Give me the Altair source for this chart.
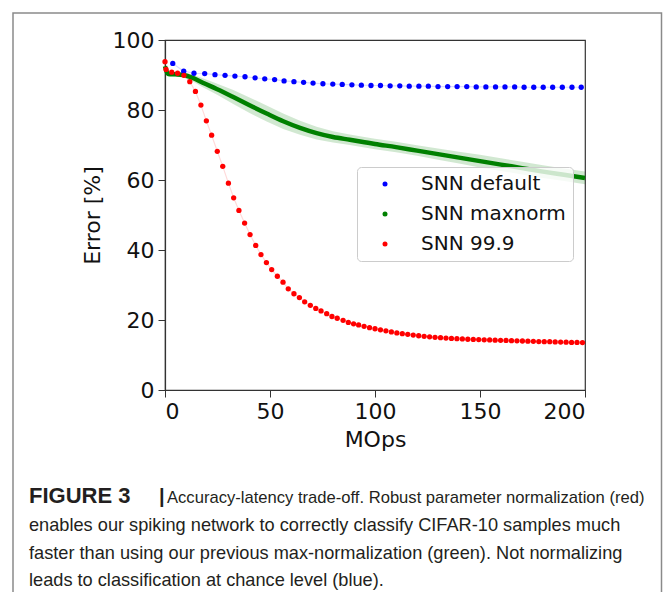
import altair as alt
import pandas as pd

# ---- data ----
series_names = ["SNN default", "SNN maxnorm", "SNN 99.9"]
series_colors = ["#0000ff", "#008000", "#ff0000"]

blue_x = [3.7, 8.9, 13.8, 18.9, 23.8, 28.6, 33.3, 38.1, 42.9, 47.5, 52.2, 56.7, 61.4, 66.0,
          70.5, 75.2, 79.9, 84.4, 89.0, 93.5, 98.1, 102.6, 107.2, 111.8, 116.3, 120.9, 125.4,
          130.0, 134.6, 139.1, 143.7, 148.2, 152.8, 157.4, 161.9, 166.5, 171.0, 175.6, 180.1,
          184.6, 189.2, 193.8, 198.2]
blue_y = [93.3, 91.1, 90.5, 90.4, 90.1, 89.9, 89.7, 89.5, 89.2, 88.9, 88.7, 88.3, 88.1, 87.9,
          87.7, 87.5, 87.4, 87.3, 87.2, 87.1, 87.0, 87.0, 86.9, 86.9, 86.8, 86.8, 86.8,
          86.7, 86.7, 86.7, 86.7, 86.6, 86.6, 86.6, 86.6, 86.6, 86.5, 86.5, 86.5,
          86.5, 86.5, 86.5, 86.5]

green_x = [0.0, 1.5, 5.0, 9.0, 13.5, 18.0, 24.6, 32.5, 40.5, 48.4, 56.3, 64.3, 72.2, 80.0,
           88.0, 95.0, 100.0, 110.0, 120.0, 130.0, 140.0, 150.0, 160.0, 170.0, 180.0, 190.0, 200.0]
green_y = [92.5, 90.3, 90.2, 90.0, 89.1, 87.8, 86.0, 83.7, 81.3, 79.0, 76.8, 74.9, 73.4, 72.3,
           71.5, 70.8, 70.3, 69.4, 68.4, 67.4, 66.4, 65.4, 64.4, 63.4, 62.4, 61.5, 60.6]
green_err = [0.5, 0.6, 0.6, 0.8, 1.0, 1.3, 1.6, 2.0, 2.2, 2.3, 2.2, 2.0, 1.8, 1.6,
             1.5, 1.5, 1.5, 1.5, 1.5, 1.6, 1.7, 1.8, 1.8, 1.8, 1.8, 1.8, 1.8]

red_x = [0.0, 0.5, 3.2, 6.0, 9.0, 11.8, 14.5, 17.1, 19.7, 22.2, 24.9, 27.5, 30.2, 32.7, 35.2,
         37.9, 40.5, 43.2, 45.7, 48.3, 50.8, 53.5, 56.2, 58.7, 61.4, 64.0, 66.5, 69.2, 71.8,
         74.3, 77.0, 79.5, 82.0, 84.8, 87.3, 89.8, 92.2,
         94.8, 97.4, 100.0, 102.6, 105.2, 107.8, 110.4, 113.0, 115.6, 118.2,
         120.8, 123.4, 126.0, 128.6, 131.2, 133.8, 136.4, 139.0, 141.6, 144.2,
         146.8, 149.4, 152.0, 154.6, 157.2, 159.8, 162.4, 165.0, 167.6, 170.2,
         172.8, 175.4, 178.0, 180.6, 183.2, 185.8, 188.4, 191.0, 193.6, 196.2, 198.8]
red_y = [93.8, 91.6, 90.8, 90.5, 89.9, 88.1, 85.3, 81.4, 76.9, 72.8, 68.2, 63.9, 59.1, 54.9, 51.3,
         47.7, 44.4, 41.3, 38.7, 36.4, 34.4, 32.5, 30.8, 28.9, 27.5, 26.4, 25.2, 24.2, 23.3,
         22.6, 21.8, 21.0, 20.5, 19.9, 19.3, 18.9, 18.6,
         18.2, 17.8, 17.5, 17.2, 16.9, 16.6, 16.3, 16.1, 15.9, 15.7,
         15.5, 15.35, 15.2, 15.05, 14.95, 14.85, 14.75, 14.65, 14.6, 14.5,
         14.45, 14.4, 14.35, 14.3, 14.25, 14.2, 14.15, 14.1, 14.05, 14.0,
         13.95, 13.9, 13.85, 13.8, 13.8, 13.75, 13.7, 13.65, 13.6, 13.6, 13.55]

x_ticks = [0, 50, 100, 150, 200]
y_ticks = [0, 20, 40, 60, 80, 100]

caption_bold = "FIGURE 3"
caption_bar = "|"
caption_lines = [
    "Accuracy-latency trade-off. Robust parameter normalization (red)",
    "enables our spiking network to correctly classify CIFAR-10 samples much",
    "faster than using our previous max-normalization (green). Not normalizing",
    "leads to classification at chance level (blue).",
]

# ---- tables ----
dots = pd.concat([
    pd.DataFrame({"x": blue_x, "y": blue_y, "series": series_names[0]}),
    pd.DataFrame({"x": red_x, "y": red_y, "series": series_names[2]}),
])
green = pd.DataFrame({
    "x": green_x, "y": green_y, "series": series_names[1],
    "lo": [v - e for v, e in zip(green_y, green_err)],
    "hi": [v + e for v, e in zip(green_y, green_err)],
})

FONT = "DejaVu Sans"
color_scale = alt.Scale(domain=series_names, range=series_colors)
xs = alt.Scale(domain=[0, 200], nice=False)
ys = alt.Scale(domain=[0, 100], nice=False)

x_enc = alt.X("x:Q", scale=xs, title="MOps",
              axis=alt.Axis(values=x_ticks, grid=False, titlePadding=7))
y_enc = alt.Y("y:Q", scale=ys, title="Error [%]",
              axis=alt.Axis(values=y_ticks, grid=False, titlePadding=8))

legend = alt.Legend(
    title=None, orient="none", legendX=192, legendY=127,
    symbolType="circle", symbolSize=25, symbolStrokeWidth=0, symbolOpacity=1,
    labelFontSize=20, labelFont=FONT, labelColor="#111111",
    fillColor="rgba(255,255,255,0.8)", strokeColor="#cccccc", padding=7, cornerRadius=4,
    rowPadding=10, symbolOffset=11, labelOffset=26,
)
color_enc = alt.Color("series:N", scale=color_scale, legend=legend)

band = alt.Chart(green).mark_area(color="#008000", opacity=0.18).encode(
    x=alt.X("x:Q", scale=xs), y=alt.Y("lo:Q", scale=ys), y2="hi:Q")

green_line = alt.Chart(green).mark_line(strokeWidth=4.5, interpolate="monotone").encode(
    x=x_enc, y=y_enc, color=color_enc)

faint = alt.Chart(dots).mark_line(strokeWidth=1.2, opacity=0.15).encode(
    x=alt.X("x:Q", scale=xs), y=alt.Y("y:Q", scale=ys), detail="series:N",
    color=color_enc)

points = alt.Chart(dots).mark_circle(size=28, opacity=1).encode(
    x=alt.X("x:Q", scale=xs), y=alt.Y("y:Q", scale=ys), color=color_enc)

frame = alt.Chart(pd.DataFrame({"k": [0]})).mark_rect(
    fill=None, stroke="#8a8a8a", strokeWidth=1.5, clip=False).encode(
    x=alt.value(-152), x2=alt.value(496.5), y=alt.value(-27), y2=alt.value(600))

cap_font = "Liberation Sans"
cap_y = [463, 491, 519, 546]
cap_color = "#231f20"
cap_bold = alt.Chart(pd.DataFrame({"t": [caption_bold]})).mark_text(
    align="left", baseline="alphabetic", font=cap_font, fontSize=22,
    fontWeight="bold", color=cap_color).encode(
    text="t:N", x=alt.value(-136), y=alt.value(cap_y[0]))
cap_barmark = alt.Chart(pd.DataFrame({"t": [caption_bar]})).mark_text(
    align="left", baseline="alphabetic", font=cap_font, fontSize=20,
    fontWeight="bold", color=cap_color).encode(
    text="t:N", x=alt.value(-6), y=alt.value(cap_y[0]))
cap_sizes = [16.6, 18.2, 18.2, 18.2]
cap_layers = []
for i, line in enumerate(caption_lines):
    cap_layers.append(
        alt.Chart(pd.DataFrame({"t": [line]})).mark_text(
            align="left", baseline="alphabetic", font=cap_font, fontSize=cap_sizes[i],
            color=cap_color).encode(
            text="t:N", x=alt.value(-136 if i else 2), y=alt.value(cap_y[i])))

chart = alt.layer(frame, band, faint, green_line, points, cap_bold, cap_barmark,
                  *cap_layers).properties(
    width=420, height=350,
    autosize=alt.AutoSizeParams(type="none"),
    padding={"left": 157, "top": 32, "right": 78, "bottom": 202},
).configure_view(stroke="#333333", strokeWidth=1.2).configure_axis(
    labelFont=FONT, titleFont=FONT, labelFontSize=22, titleFontSize=22,
    titleFontWeight="normal", labelColor="#111111", titleColor="#111111",
    domainColor="#333333", tickColor="#333333", tickSize=7, labelPadding=4,
    domainWidth=1.2,
)

chart.save("out.html", embed_options={"renderer": "svg", "actions": False})
